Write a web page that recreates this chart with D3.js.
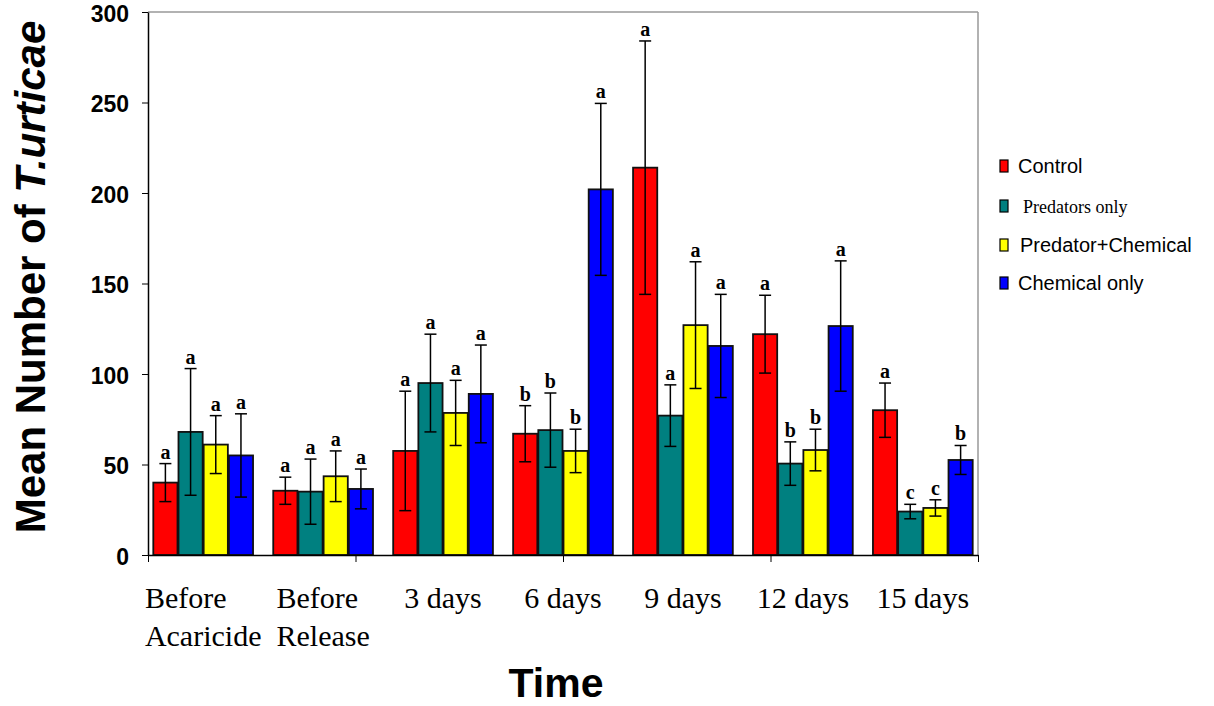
<!DOCTYPE html>
<html>
<head>
<meta charset="utf-8">
<script src="https://cdn.jsdelivr.net/npm/d3@7"></script>
<style>
body { margin: 0; background: #fff; }
</style>
</head>
<body>
<div class="chart"></div>
<script>
var categories = [["Before", "Acaricide"], ["Before", "Release"], ["3 days"], ["6 days"], ["9 days"], ["12 days"], ["15 days"]];
var seriesNames = ["Control", "Predators only", "Predator+Chemical", "Chemical only"];
var colors = ["#ff0000", "#008080", "#ffff00", "#0000ff"];

var control = [40, 35.5, 57.5, 67, 214, 122, 80];
var predators = [68, 35, 95, 69, 77, 50.5, 24];
var predChem = [61, 43.5, 78.5, 57.5, 127, 58, 26];
var chemical = [55, 36.5, 89, 202, 115.5, 126.5, 52.5];

var controlErr = [10.5, 7.5, 33, 15.5, 70, 21.5, 15];
var predatorsErr = [35, 18, 27, 20.5, 17, 12, 4];
var predChemErr = [16, 14, 18, 12, 35, 11.5, 4.5];
var chemicalErr = [23, 11, 27, 47.5, 28.5, 36, 8];

var controlLetters = ["a", "a", "a", "b", "a", "a", "a"];
var predatorsLetters = ["a", "a", "a", "b", "a", "b", "c"];
var predChemLetters = ["a", "a", "a", "b", "a", "b", "c"];
var chemicalLetters = ["a", "a", "a", "a", "a", "a", "b"];

var yTicks = [0, 50, 100, 150, 200, 250, 300];

var values = [control, predators, predChem, chemical];
var errors = [controlErr, predatorsErr, predChemErr, chemicalErr];
var letters = [controlLetters, predatorsLetters, predChemLetters, chemicalLetters];

var W = 1214, H = 706;
var margin = {top: 12, left: 148, right: 236, bottom: 151};
var width = W - margin.left - margin.right;
var height = H - margin.top - margin.bottom;

var svg = d3.select(".chart").append("svg")
	.attr("width", W)
	.attr("height", H);

var g = svg.append("g").attr("transform", "translate(" + margin.left + "," + margin.top + ")");

var x0 = d3.scaleBand()
	.domain(d3.range(categories.length))
	.range([0, width])
	.paddingInner(0.16)
	.paddingOuter(0.04);

var x1 = d3.scaleBand()
	.domain(d3.range(seriesNames.length))
	.range([0, x0.bandwidth()]);

var y = d3.scaleLinear().domain([0, 300]).range([height, 0]);

// grey frame top/right
g.append("line").attr("x1", 0).attr("x2", width).attr("y1", 0).attr("y2", 0)
	.attr("stroke", "#999").attr("stroke-width", 1.5);
g.append("line").attr("x1", width).attr("x2", width).attr("y1", 0).attr("y2", height)
	.attr("stroke", "#999").attr("stroke-width", 1.5);

// bars
var rows = [];
categories.forEach(function(c, i) {
	seriesNames.forEach(function(s, j) {
		rows.push({cat: i, ser: j, v: values[j][i], e: errors[j][i], l: letters[j][i]});
	});
});

var grp = g.selectAll(".bar")
	.data(rows)
	.enter().append("g")
	.attr("class", "bar")
	.attr("transform", function(d) { return "translate(" + (x0(d.cat) + x1(d.ser)) + ",0)"; });

grp.append("rect")
	.attr("x", 0.5)
	.attr("y", function(d) { return y(d.v); })
	.attr("width", x1.bandwidth() - 1)
	.attr("height", function(d) { return height - y(d.v); })
	.attr("fill", function(d) { return colors[d.ser]; })
	.attr("stroke", "#111")
	.attr("stroke-width", 1.8);

var cx = x1.bandwidth() / 2;
grp.append("line")
	.attr("x1", cx).attr("x2", cx)
	.attr("y1", function(d) { return y(d.v + d.e); })
	.attr("y2", function(d) { return y(d.v - d.e); })
	.attr("stroke", "#000").attr("stroke-width", 1.5);
grp.append("line")
	.attr("x1", cx - 6).attr("x2", cx + 6)
	.attr("y1", function(d) { return y(d.v + d.e); })
	.attr("y2", function(d) { return y(d.v + d.e); })
	.attr("stroke", "#000").attr("stroke-width", 1.5);
grp.append("line")
	.attr("x1", cx - 6).attr("x2", cx + 6)
	.attr("y1", function(d) { return y(d.v - d.e); })
	.attr("y2", function(d) { return y(d.v - d.e); })
	.attr("stroke", "#000").attr("stroke-width", 1.5);

grp.append("text")
	.attr("x", cx)
	.attr("y", function(d) { return y(d.v + d.e) - 5; })
	.attr("text-anchor", "middle")
	.attr("font-family", "'Liberation Serif', serif")
	.attr("font-weight", "bold")
	.attr("font-size", "20px")
	.text(function(d) { return d.l; });

// y axis
var yAxis = g.append("g")
	.call(d3.axisLeft(y).tickValues(yTicks).tickSize(6).tickSizeOuter(0).tickPadding(13));
yAxis.select(".domain").attr("stroke", "#000").attr("stroke-width", 1.5);
yAxis.selectAll(".tick line").attr("stroke", "#000");
yAxis.selectAll("text")
	.attr("dy", "0.4em")
	.attr("font-family", "'Liberation Sans', Arial, sans-serif")
	.attr("font-weight", "bold")
	.attr("font-size", "23px")
	.attr("fill", "#000");

// x axis line and ticks
var xt = d3.scaleLinear().domain([0, 4]).range([0, width]);
var xAxis = g.append("g").attr("transform", "translate(0," + height + ")")
	.call(d3.axisBottom(xt).ticks(4).tickSize(7).tickSizeOuter(0).tickFormat(""));
xAxis.select(".domain").attr("stroke", "#000").attr("stroke-width", 1.5);
xAxis.selectAll(".tick line").attr("stroke", "#000");

// category labels
var lab = g.selectAll(".xlab")
	.data(categories)
	.enter().append("text")
	.attr("class", "xlab")
	.attr("y", height + 53)
	.attr("font-family", "'Liberation Serif', 'Times New Roman', serif")
	.attr("font-size", "30px")
	.attr("fill", "#000");
lab.selectAll("tspan")
	.data(function(d) { return d; })
	.enter().append("tspan")
	.attr("x", 0)
	.attr("dy", function(d, i) { return i === 0 ? 0 : 38; })
	.text(function(d) { return d; });
lab.each(function(d, i) {
	var w = this.getBBox().width;
	var left = x0(i) + x0.bandwidth() / 2 - w / 2;
	d3.select(this).selectAll("tspan").attr("x", left);
});

// axis titles
svg.append("text")
	.attr("x", 556)
	.attr("y", 697)
	.attr("text-anchor", "middle")
	.attr("font-family", "'Liberation Sans', Arial, sans-serif")
	.attr("font-weight", "bold")
	.attr("font-size", "41px")
	.text("Time");

var yt = svg.append("text")
	.attr("transform", "translate(45,277) rotate(-90)")
	.attr("text-anchor", "middle")
	.attr("font-family", "'Liberation Sans', Arial, sans-serif")
	.attr("font-weight", "bold")
	.attr("font-size", "42px");
yt.append("tspan").text("Mean Number of  ");
yt.append("tspan").attr("font-style", "italic").text("T.urticae");

// legend
var legY = [166, 206, 245, 283];
var legX = [1018, 1023, 1020, 1018];
var legFont = ["'Liberation Sans', Arial, sans-serif", "'Liberation Serif', serif", "'Liberation Sans', Arial, sans-serif", "'Liberation Sans', Arial, sans-serif"];
var legSize = ["20px", "18px", "20px", "20px"];
var leg = svg.selectAll(".leg")
	.data(seriesNames)
	.enter().append("g")
	.attr("class", "leg");
leg.append("rect")
	.attr("x", 1000)
	.attr("y", function(d, i) { return legY[i] - 6; })
	.attr("width", 8)
	.attr("height", 12)
	.attr("fill", function(d, i) { return colors[i]; })
	.attr("stroke", "#000")
	.attr("stroke-width", 1.2);
leg.append("text")
	.attr("x", function(d, i) { return legX[i]; })
	.attr("y", function(d, i) { return legY[i] + 7; })
	.attr("font-family", function(d, i) { return legFont[i]; })
	.attr("font-size", function(d, i) { return legSize[i]; })
	.text(function(d) { return d; });
</script>
</body>
</html>
